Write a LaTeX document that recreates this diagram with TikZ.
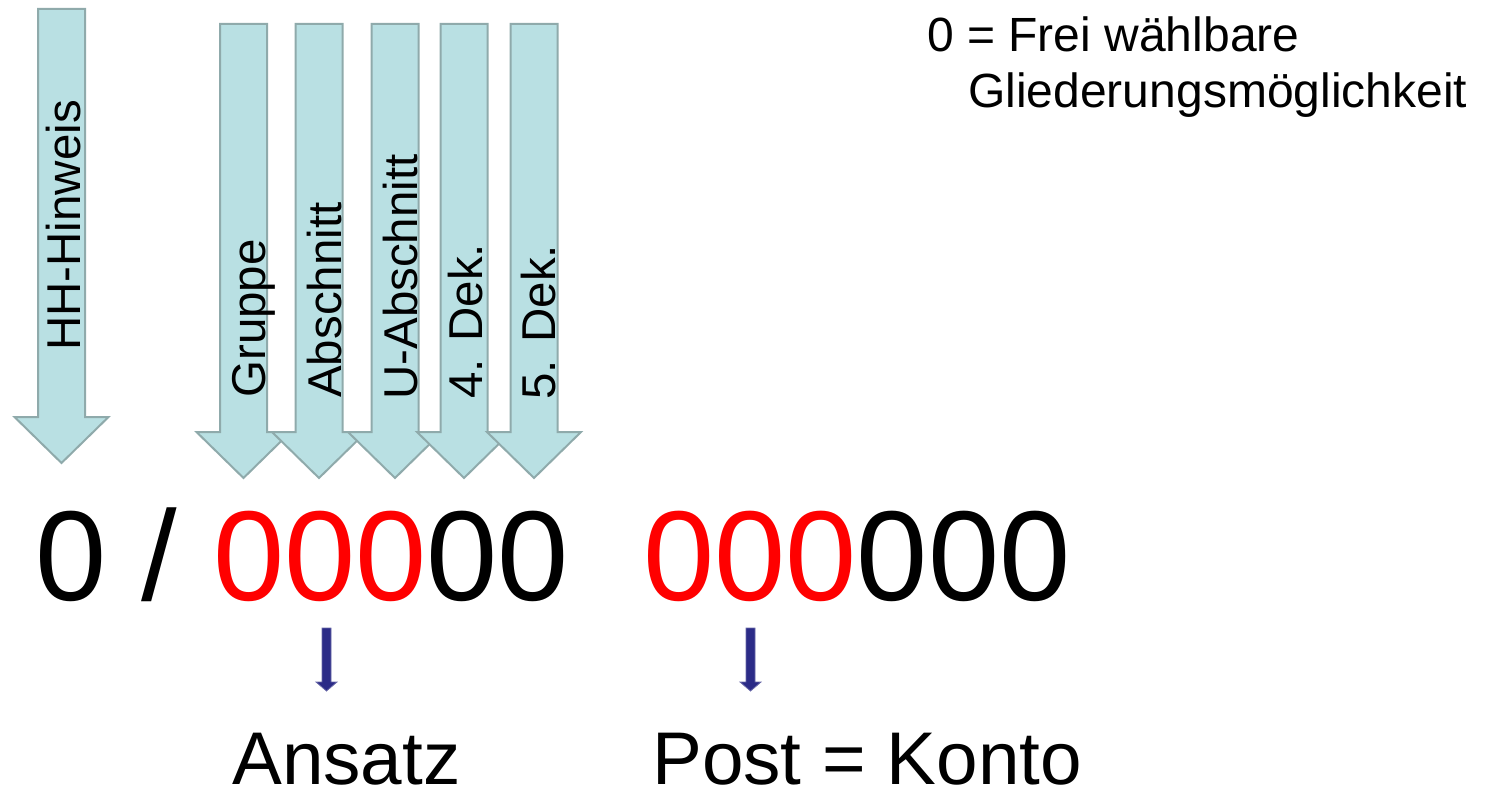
\documentclass[tikz,border=0pt]{standalone}
\usepackage{fontspec}
\setmainfont{Liberation Sans}

\definecolor{shaftfill}{RGB}{185,224,227}
\definecolor{shaftline}{RGB}{143,170,171}
\definecolor{navyfill}{RGB}{43,43,135}
\definecolor{navyedge}{RGB}{105,105,168}
\definecolor{digitred}{RGB}{255,0,0}

% block arrow pointing down: centre x, top y, head base y, tip y, half shaft, half head
\newcommand{\drawblockarrow}[7]{%
  \path[#7] ({#1-#5},#2) -- ({#1+#5},#2) -- ({#1+#5},#3) -- ({#1+#6},#3)
    -- (#1,#4) -- ({#1-#6},#3) -- ({#1-#5},#3) -- cycle;}

\tikzset{
  bigarrow/.style={fill=shaftfill, draw=shaftline, line width=1.5pt, line join=miter},
  smallarrow/.style={fill=navyfill, draw=navyedge, line width=0.6pt, line join=miter},
  lbl/.style={rotate=90, anchor=base west, inner sep=0pt,
    font=\fontsize{35.6}{40}\selectfont},
  note/.style={anchor=base west, inner sep=0pt, font=\fontsize{36}{40}\selectfont},
  code/.style={anchor=base west, inner sep=0pt, font=\fontsize{96}{100}\selectfont},
  meaning/.style={anchor=base west, inner sep=0pt, font=\fontsize{56}{60}\selectfont},
}

\begin{document}
\begin{tikzpicture}[x=0.75pt, y=-0.75pt]
  \useasboundingbox (0,0) rectangle (1486,788);

  % budget note arrow
  \drawblockarrow{61.5}{9}{417}{463}{23.5}{47}{bigarrow}
  % classification arrows
  \drawblockarrow{243.5}{24}{432}{478}{23.5}{47}{bigarrow}
  \drawblockarrow{319}{24}{432}{478}{23.5}{47}{bigarrow}
  \drawblockarrow{395}{24}{432}{478}{23.5}{47}{bigarrow}
  \drawblockarrow{464}{24}{432}{478}{23.5}{47}{bigarrow}
  \drawblockarrow{534}{24}{432}{478}{23.5}{47}{bigarrow}

  % labels inside the arrows
  \node[lbl] (hh)   at (80,351)  {HH-Hinweis};
  \node[lbl] (grp)  at (265,398) {Gruppe};
  \node[lbl] (abs)  at (341,398) {Abschnitt};
  \node[lbl] (uabs) at (417,400) {U-Abschnitt};
  \node[lbl] (dek4) at (482,399) {4. Dek.};
  \node[lbl] (dek5) at (555,400) {5. Dek.};

  % legend
  \node[note] (legend1) at (927,52)  {0 = Frei wählbare};
  \node[note] (legend2) at (968,108) {Gliederungsmöglichkeit};

  % the number pattern
  \node[code] (ansatzcode) at (35,600)  {0 / \textcolor{digitred}{000}00};
  \node[code] (postcode)   at (643,600) {\textcolor{digitred}{000}000};

  % pointers down to the meanings
  \drawblockarrow{326.5}{628}{682}{691}{4.5}{10.5}{smallarrow}
  \drawblockarrow{750.5}{628}{682}{691}{4.5}{10.5}{smallarrow}

  \node[meaning] (ansatz) at (232,784) {Ansatz};
  \node[meaning] (post)   at (652,784) {Post = Konto};
\end{tikzpicture}
\end{document}
